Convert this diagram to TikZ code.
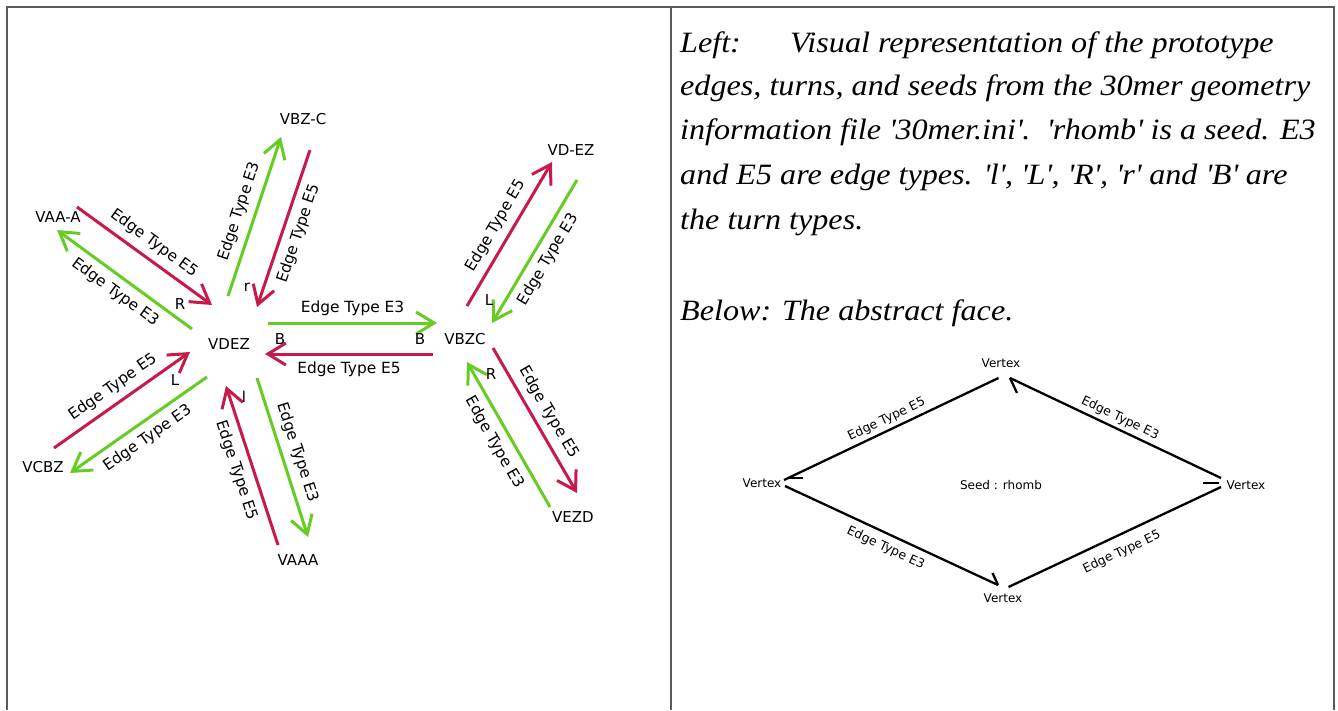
\documentclass[tikz,border=0pt]{standalone}
\usepackage{fontspec}
\setmainfont{Liberation Serif}
\newfontfamily\parafont{Liberation Serif}[FakeStretch=1.09]
\newfontfamily\dvs{DejaVu Sans}
\newcommand{\sq}{\textquotesingle}
\usetikzlibrary{arrows.meta}
\definecolor{ered}{RGB}{200,25,75}
\definecolor{egreen}{RGB}{102,204,34}
\definecolor{frame}{RGB}{90,90,90}
\begin{document}
\begin{tikzpicture}[x=1pt,y=-1pt,
  etip/.style={-{Straight Barb[length=18pt,width=22pt]}},
  efive/.style={draw=ered,line width=3pt,etip},
  ethree/.style={draw=egreen,line width=3pt,etip},
  lab/.style={font=\dvs\fontsize{15.4}{17}\selectfont,sloped,inner sep=2pt},
  vname/.style={font=\dvs\fontsize{15}{17}\selectfont,inner sep=0pt},
  turn/.style={font=\dvs\fontsize{15}{17}\selectfont,inner sep=0pt},
  para/.style={font=\parafont\itshape\fontsize{29.5}{34}\selectfont,anchor=base west,inner sep=0pt},
  rlab/.style={font=\dvs\fontsize{12.5}{14}\selectfont,sloped,inner sep=1pt},
  rv/.style={font=\dvs\fontsize{12}{14}\selectfont,inner sep=0pt},
  rline/.style={draw=black,line width=2.3pt},
]
\useasboundingbox (0,0) rectangle (1338,710);
\fill[white] (0,0) rectangle (1338,710);
% frame
\draw[frame,line width=1.2pt] (7,710) -- (7,7) -- (1334,7) -- (1334,710);
\draw[frame,line width=1.2pt] (671,7) -- (671,710);

% ---------- left diagram: vertex names ----------
\node[vname] (vbzc-top) at (303,119) {VBZ-C};
\node[vname] (vaaa-a) at (58,217) {VAA-A};
\node[vname] (vdez) at (229,344) {VDEZ};
\node[vname] (vbzc) at (465,339) {VBZC};
\node[vname] (vdez2) at (571,150) {VD-EZ};
\node[vname] (vcbz) at (43,467) {VCBZ};
\node[vname] (vaaa) at (298,560) {VAAA};
\node[vname] (vezd) at (573,517) {VEZD};

% arrow end points
\coordinate (a1s) at (228,296); \coordinate (a1e) at (281,137);
\coordinate (a2s) at (310,150); \coordinate (a2e) at (257,307);
\coordinate (a3s) at (77,207);  \coordinate (a3e) at (212,305);
\coordinate (a4s) at (192,329); \coordinate (a4e) at (57,230);
\coordinate (a5s) at (268,323); \coordinate (a5e) at (437,323);
\coordinate (a6s) at (433,354); \coordinate (a6e) at (265,354);
\coordinate (a7s) at (467,306); \coordinate (a7e) at (552,162);
\coordinate (a8s) at (577,180); \coordinate (a8e) at (492,323);
\coordinate (a9s) at (493,348); \coordinate (a9e) at (577,493);
\coordinate (a10s) at (550,507); \coordinate (a10e) at (467,362);
\coordinate (a11s) at (54,448); \coordinate (a11e) at (190,352);
\coordinate (a12s) at (207,377); \coordinate (a12e) at (70,473);
\coordinate (a13s) at (278,545); \coordinate (a13e) at (226,386);
\coordinate (a14s) at (257,378); \coordinate (a14e) at (308,537);

\draw[ethree] (a1s) -- node[lab,above=5pt]{Edge Type E3} (a1e);
\draw[efive] (a2s) -- node[lab,below=5pt]{Edge Type E5} (a2e);
\draw[efive] (a3s) -- node[lab,above=5pt]{Edge Type E5} (a3e);
\draw[ethree] (a4s) -- node[lab,below=5pt]{Edge Type E3} (a4e);
\draw[ethree] (a5s) -- node[lab,above=4pt]{Edge Type E3} (a5e);
\draw[efive] (a6s) -- node[lab,below=4pt]{Edge Type E5} (a6e);
\draw[efive] (a7s) -- node[lab,above=5pt]{Edge Type E5} (a7e);
\draw[ethree] (a8s) -- node[lab,below=5pt]{Edge Type E3} (a8e);
\draw[efive] (a9s) -- node[lab,above=5pt]{Edge Type E5} (a9e);
\draw[ethree] (a10s) -- node[lab,below=5pt]{Edge Type E3} (a10e);
\draw[efive] (a11s) -- node[lab,above=5pt]{Edge Type E5} (a11e);
\draw[ethree] (a12s) -- node[lab,below=5pt]{Edge Type E3} (a12e);
\draw[efive] (a13s) -- node[lab,below=5pt]{Edge Type E5} (a13e);
\draw[ethree] (a14s) -- node[lab,above=5pt]{Edge Type E3} (a14e);

% turn labels
\node[turn] (t-r) at (247,287) {r};
\node[turn] (t-R1) at (180,304) {R};
\node[turn] (t-B1) at (280,339) {B};
\node[turn] (t-B2) at (420,339) {B};
\node[turn] (t-L1) at (489,300) {L};
\node[turn] (t-R2) at (491,374) {R};
\node[turn] (t-L2) at (175,380) {L};
\node[turn] (t-l) at (244,397) {l};

% ---------- right text ----------
\node[para] (p1a) at (680,52) {Left:};
\node[para] (p1b) at (790,52) {Visual representation of the prototype};
\node[para] (p2) at (680,95) {edges, turns, and seeds from the 30mer geometry};
\node[para] (p3) at (680,139) {information file \sq30mer.ini\sq.\ \ \sq rhomb\sq\ is a seed. E3};
\node[para] (p4) at (680,184) {and E5 are edge types. \sq l\sq, \sq L\sq, \sq R\sq, \sq r\sq\ and \sq B\sq\ are};
\node[para] (p5) at (680,229) {the turn types.};
\node[para] (p6) at (680,320) {Below: The abstract face.};

% ---------- rhombus ----------
\node[rv] (vt) at (1001,363) {Vertex};
\node[rv] (vl) at (762,483) {Vertex};
\node[rv] (vr) at (1246,485) {Vertex};
\node[rv] (vb) at (1003,598) {Vertex};
\node[rv] (seed) at (1001,485) {Seed : rhomb};

\coordinate (rTa) at (998.5,378);  \coordinate (rTb) at (1010,378);
\coordinate (rLa) at (784,480);  \coordinate (rLb) at (785,486);
\coordinate (rRa) at (1221,478); \coordinate (rRb) at (1221,487);
\coordinate (rBa) at (998,585);  \coordinate (rBb) at (1008.5,587);

\draw[rline] (rTa) -- node[rlab,above=2.5pt]{Edge Type E5} (rLa);
\draw[rline] ([shift={(3,-2)}]rLa) -- ++(16,0);
\draw[rline] (rRa) -- node[rlab,above=2.5pt]{Edge Type E3} (rTb);
\draw[rline] (rTb) -- ++(7,15);
\draw[rline] (rLb) -- node[rlab,below=5.5pt]{Edge Type E3} (rBa);
\draw[rline] (rBa) -- ++(-5.5,-12);
\draw[rline] (rBb) -- node[rlab,below=8.5pt]{Edge Type E5} (rRb);
\draw[rline] ([shift={(-2,-4)}]rRb) -- ++(-16,0);
\end{tikzpicture}
\end{document}
